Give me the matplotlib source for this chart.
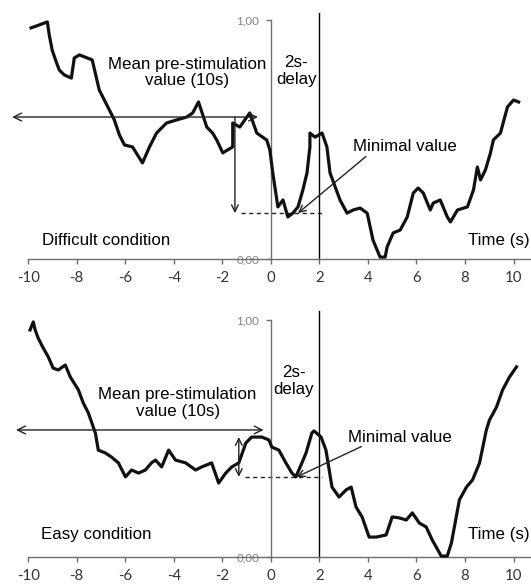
#!/usr/bin/env python

import matplotlib
matplotlib.use('Agg')
import matplotlib.pyplot as plt

# difficult condition (top panel), time in s and normalised value
difficult_t = [-9.88, -9.55, -9.21, -9.13, -9.01, -8.84, -8.72, -8.51, -8.22, -8.10,
               -7.89, -7.56, -7.36, -7.07, -6.86, -6.65, -6.45, -6.24, -6.03, -5.70,
               -5.29, -5.00, -4.71, -4.30, -3.88, -3.47, -3.22, -2.98, -2.64, -2.40,
               -2.23, -1.98, -1.57, -1.57, -1.28, -0.87, -0.58, -0.17, -0.04, 0.08,
               0.29, 0.50, 0.70, 0.91, 1.12, 1.32, 1.49, 1.61, 1.61, 1.82,
               2.11, 2.31, 2.44, 2.85, 3.14, 3.39, 3.68, 3.97, 4.21, 4.50,
               4.71, 4.79, 5.04, 5.33, 5.62, 5.87, 6.07, 6.28, 6.57, 6.69,
               6.98, 7.27, 7.40, 7.69, 8.10, 8.35, 8.51, 8.64, 8.84, 9.05,
               9.17, 9.46, 9.75, 10.00, 10.21]
difficult_v = [0.967, 0.979, 0.992, 0.937, 0.874, 0.824, 0.791, 0.770, 0.757, 0.841,
               0.854, 0.841, 0.833, 0.707, 0.665, 0.623, 0.582, 0.519, 0.477, 0.469,
               0.402, 0.469, 0.527, 0.569, 0.582, 0.594, 0.611, 0.657, 0.552, 0.527,
               0.498, 0.444, 0.469, 0.569, 0.552, 0.611, 0.527, 0.498, 0.456, 0.360,
               0.218, 0.247, 0.176, 0.192, 0.218, 0.289, 0.360, 0.469, 0.527, 0.510,
               0.527, 0.469, 0.360, 0.247, 0.192, 0.205, 0.213, 0.192, 0.079, 0.008,
               0.008, 0.050, 0.109, 0.121, 0.176, 0.276, 0.297, 0.276, 0.205, 0.234,
               0.247, 0.176, 0.155, 0.205, 0.218, 0.289, 0.385, 0.331, 0.372, 0.444,
               0.498, 0.527, 0.636, 0.665, 0.657]

# easy condition (bottom panel)
easy_t = [-9.92, -9.79, -9.71, -9.59, -9.38, -9.17, -8.97, -8.76, -8.47, -8.26,
          -7.93, -7.73, -7.52, -7.23, -7.11, -6.82, -6.57, -6.28, -5.99, -5.74,
          -5.45, -5.17, -4.92, -4.75, -4.50, -4.21, -3.93, -3.51, -3.10, -2.85,
          -2.44, -2.15, -1.86, -1.61, -1.32, -1.03, -0.79, -0.37, -0.08, 0.04,
          0.33, 0.62, 0.87, 1.03, 1.28, 1.45, 1.69, 1.78, 2.07, 2.27,
          2.52, 2.81, 3.10, 3.31, 3.51, 3.76, 4.05, 4.34, 4.75, 5.00,
          5.29, 5.58, 5.83, 6.12, 6.40, 6.65, 7.02, 7.27, 7.44, 7.77,
          8.06, 8.31, 8.60, 8.88, 9.01, 9.30, 9.55, 9.83, 10.12]
easy_v = [0.958, 0.992, 0.958, 0.924, 0.882, 0.844, 0.797, 0.789, 0.810, 0.759,
          0.705, 0.650, 0.608, 0.523, 0.451, 0.439, 0.422, 0.397, 0.338, 0.367,
          0.354, 0.367, 0.397, 0.409, 0.380, 0.451, 0.409, 0.397, 0.367, 0.380,
          0.397, 0.312, 0.354, 0.380, 0.397, 0.481, 0.506, 0.506, 0.494, 0.464,
          0.451, 0.397, 0.354, 0.338, 0.397, 0.439, 0.523, 0.532, 0.506, 0.451,
          0.295, 0.253, 0.283, 0.295, 0.211, 0.169, 0.084, 0.084, 0.093, 0.169,
          0.165, 0.156, 0.186, 0.143, 0.127, 0.072, 0.004, 0.004, 0.059, 0.241,
          0.295, 0.325, 0.397, 0.536, 0.578, 0.633, 0.705, 0.759, 0.802]

x_ticks = [-10, -8, -6, -4, -2, 0, 2, 4, 6, 8, 10]
y_ticks = [0, 1]
y_tick_labels = ['0,00', '1,00']

text_font = 'Liberation Sans'
tick_font = 'Lato'


def setup_axes(ax, ylim):
    '''
    axes drawn through the origin like an Excel chart
    '''
    ax.set_xlim(-11.16, 10.72)
    ax.set_ylim(*ylim)
    ax.patch.set_visible(False)
    for side in ['top', 'right']:
        ax.spines[side].set_visible(False)
    ax.spines['left'].set_position(('data', 0))
    ax.spines['bottom'].set_position(('data', 0))
    ax.spines['left'].set_bounds(0, 1)
    ax.spines['bottom'].set_bounds(-10, 10.72)
    for side in ['left', 'bottom']:
        ax.spines[side].set_color('#6e6e6e')
        ax.spines[side].set_linewidth(1.0)

    ax.set_xticks(x_ticks)
    ax.set_xticklabels([str(t) for t in x_ticks], fontname=tick_font,
                       fontsize=10.8, color='#333333')
    ax.set_yticks(y_ticks)
    ax.set_yticklabels(y_tick_labels, fontname=tick_font, fontsize=8.3,
                       color='#808080')
    ax.tick_params(axis='x', direction='out', length=3.5, width=1,
                   color='#6e6e6e', pad=5)
    ax.tick_params(axis='y', direction='out', length=3.5, width=1,
                   color='#6e6e6e', pad=5)


def draw_panel(ax, t, v, arrow_y, arrow_x0, arrow_x1, bar_x, bar_top, bar_style,
               min_y, min_x, mean_xy, delay_xy, minimal_xy, cond_xy, cond_label,
               delay_top):
    ax.plot(t, v, color='#111111', linewidth=2.3, solid_joinstyle='round',
            zorder=3)

    # 2s-delay line
    ax.plot([2, 2], [0, delay_top], color='black', linewidth=1.0, zorder=2)

    # mean pre-stimulation arrow
    ax.annotate('', xy=(arrow_x0, arrow_y), xytext=(arrow_x1, arrow_y),
                arrowprops=dict(arrowstyle='<->', color='#222222', lw=1.0,
                                shrinkA=0, shrinkB=0, mutation_scale=14))
    # difference between mean and minimum
    ax.annotate('', xy=(bar_x, min_y), xytext=(bar_x, bar_top),
                arrowprops=dict(arrowstyle=bar_style, color='#222222', lw=1.0,
                                shrinkA=0, shrinkB=0, mutation_scale=12))
    ax.plot([bar_x + 0.25, 2.12], [min_y, min_y], color='#222222',
            linewidth=1.0, linestyle=(0, (3, 2.5)), zorder=2)

    # minimal value pointer
    ax.annotate('', xy=(min_x, min_y), xytext=(minimal_xy[0] - 1.6, minimal_xy[1] - 0.04),
                arrowprops=dict(arrowstyle='->', color='#222222', lw=1.0,
                                shrinkA=0, shrinkB=0, mutation_scale=12))

    ax.text(mean_xy[0], mean_xy[1], 'Mean pre-stimulation\nvalue (10s)',
            ha='center', va='center', fontname=text_font, fontsize=12.2,
            linespacing=1.15)
    ax.text(delay_xy[0], delay_xy[1], '2s-\ndelay', ha='center', va='center',
            fontname=text_font, fontsize=12.2, linespacing=1.15)
    ax.text(minimal_xy[0], minimal_xy[1], 'Minimal value', ha='center',
            va='center', fontname=text_font, fontsize=12.2)
    ax.text(cond_xy[0], cond_xy[1], cond_label, ha='left', va='center',
            fontname=text_font, fontsize=12.2)
    # time label sits at the right edge
    ax.text(10.66, cond_xy[1], 'Time (s)', ha='right', va='center',
            fontname=text_font, fontsize=12.2)


if __name__ == "__main__":

    fig = plt.figure(figsize=(5.31, 5.87), dpi=100)
    ax_top = fig.add_axes([0, 1 - 293 / 587, 1, 293 / 587])
    ax_bot = fig.add_axes([0, 0, 1, 294 / 587])

    setup_axes(ax_top, (-0.1423, 1.0837))
    setup_axes(ax_bot, (-0.1266, 1.1139))

    draw_panel(ax_top, difficult_t, difficult_v,
               arrow_y=0.594, arrow_x0=-10.66, arrow_x1=-0.53,
               bar_x=-1.48, bar_top=0.594, bar_style='->',
               min_y=0.192, min_x=1.12,
               mean_xy=(-3.45, 0.78), delay_xy=(1.04, 0.787),
               minimal_xy=(5.52, 0.469), cond_xy=(-9.43, 0.079),
               cond_label='Difficult condition', delay_top=1.03)

    draw_panel(ax_bot, easy_t, easy_v,
               arrow_y=0.536, arrow_x0=-10.5, arrow_x1=-0.3,
               bar_x=-1.32, bar_top=0.506, bar_style='<->',
               min_y=0.338, min_x=1.07,
               mean_xy=(-3.84, 0.65), delay_xy=(0.95, 0.743),
               minimal_xy=(5.33, 0.506), cond_xy=(-9.46, 0.093),
               cond_label='Easy condition', delay_top=1.04)

    plt.savefig('out.png', dpi=100)
